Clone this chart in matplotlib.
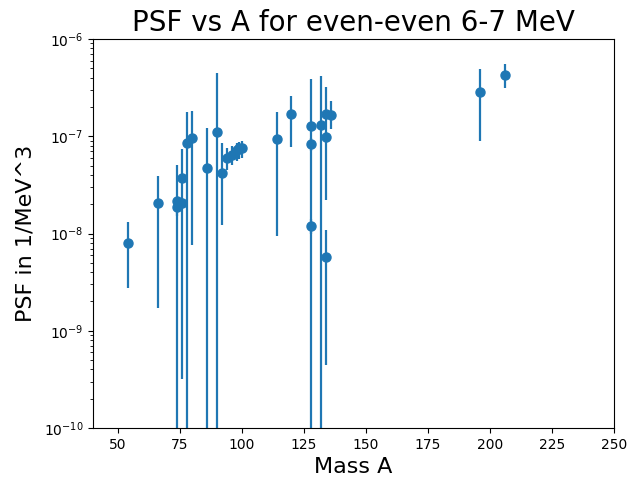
import numpy as np
import matplotlib
matplotlib.use('Agg')
import matplotlib.pyplot as plt

# mass number, PSF value, lower / upper edge of the error bar (1/MeV^3)
# lower edge 0 means the bar runs off the bottom of the log axis
A = [54, 66, 74, 74, 76, 76, 78, 80, 86, 90, 92,
     94, 96, 98, 99, 100, 114, 120,
     128, 128, 128, 132, 134, 134, 134, 136, 196, 206]
psf = [7.9e-9, 2.04e-8, 2.17e-8, 1.86e-8, 2.07e-8, 3.7e-8, 8.5e-8, 9.5e-8, 4.68e-8, 1.11e-7, 4.17e-8,
       6.0e-8, 6.4e-8, 7.2e-8, 7.5e-8, 7.5e-8, 9.4e-8, 1.69e-7,
       1.27e-7, 8.3e-8, 1.19e-8, 1.3e-7, 1.7e-7, 9.8e-8, 5.7e-9, 1.65e-7, 2.87e-7, 4.27e-7]
lo = [2.77e-9, 1.7e-9, 0, 1.5e-8, 1.8e-8, 3.16e-10, 0, 7.7e-9, 0, 0, 1.22e-8,
      4.5e-8, 5.1e-8, 5.5e-8, 5.8e-8, 6.0e-8, 9.4e-9, 7.8e-8,
      0, 7.0e-8, 1.0e-8, 0, 2.2e-8, 8.5e-8, 4.45e-10, 1.2e-7, 9.0e-8, 3.16e-7]
hi = [1.3e-8, 3.93e-8, 5.06e-8, 2.0e-8, 2.3e-8, 7.35e-8, 1.79e-7, 1.83e-7, 1.21e-7, 4.5e-7, 8.5e-8,
      7.5e-8, 8.0e-8, 8.5e-8, 8.8e-8, 9.0e-8, 1.77e-7, 2.6e-7,
      3.9e-7, 9.5e-8, 1.4e-8, 4.2e-7, 3.2e-7, 1.1e-7, 1.09e-8, 2.3e-7, 4.87e-7, 5.5e-7]

psf = np.array(psf)
yerr = [psf - np.array(lo), np.array(hi) - psf]

fig = plt.figure(figsize=(6.31, 4.82), dpi=100)
fig.subplots_adjust(left=93/631, right=614/631, top=1-39/482, bottom=1-428/482)
ax = fig.add_subplot(111)
ax.errorbar(A, psf, yerr=yerr, fmt='o', markersize=6.5, elinewidth=1.6)
ax.set_yscale('log')
ax.set_ylim(1e-10, 1e-6)
ax.set_xlim(40, 250)
ax.set_title('PSF vs A for even-even 6-7 MeV', fontsize=20)
ax.set_xlabel('Mass A', fontsize=16)
ax.set_ylabel('PSF in 1/MeV^3', fontsize=16, labelpad=6)
fig.savefig('out.png', dpi=100)
